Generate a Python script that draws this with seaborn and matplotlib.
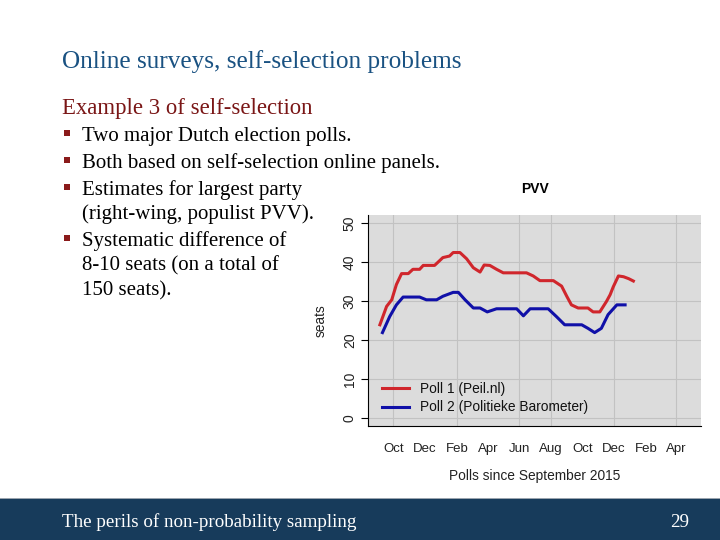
import matplotlib
matplotlib.use("Agg")
import matplotlib.pyplot as plt
import matplotlib.dates as mdates
import matplotlib.patches as mpatches
import pandas as pd
import seaborn as sns

# ---- data ----
poll1_dates = ["2015-09-05", "2015-09-18", "2015-09-28", "2015-10-07", "2015-10-17",
               "2015-10-30", "2015-11-08", "2015-11-21", "2015-11-28", "2015-12-20",
               "2016-01-05", "2016-01-18", "2016-01-25", "2016-02-07", "2016-02-20",
               "2016-03-04", "2016-03-17", "2016-03-25", "2016-04-05", "2016-04-18",
               "2016-05-01", "2016-06-15", "2016-06-28", "2016-07-11", "2016-08-06",
               "2016-08-22", "2016-09-01", "2016-09-10", "2016-09-23", "2016-10-12",
               "2016-10-22", "2016-11-04", "2016-11-17", "2016-11-24", "2016-11-30",
               "2016-12-10", "2016-12-20", "2016-12-30", "2017-01-08"]
poll1_seats = [23.9, 28.6, 30.3, 34.2, 37.0, 37.0, 38.1, 38.1, 39.1, 39.1,
               41.1, 41.5, 42.4, 42.4, 40.8, 38.5, 37.4, 39.2, 39.1, 38.1,
               37.2, 37.2, 36.4, 35.2, 35.2, 33.8, 31.2, 29.0, 28.2, 28.2,
               27.2, 27.2, 29.9, 31.6, 33.6, 36.4, 36.2, 35.7, 35.1]

poll2_dates = ["2015-09-10", "2015-09-24", "2015-10-07", "2015-10-20", "2015-11-21",
               "2015-12-04", "2015-12-24", "2016-01-05", "2016-01-25", "2016-02-04",
               "2016-02-17", "2016-03-04", "2016-03-17", "2016-03-31", "2016-04-18",
               "2016-05-27", "2016-06-09", "2016-06-22", "2016-07-27", "2016-08-12",
               "2016-08-28", "2016-09-30", "2016-10-12", "2016-10-25", "2016-11-07",
               "2016-11-20", "2016-12-07", "2016-12-23"]
poll2_seats = [21.9, 26.0, 29.0, 31.0, 31.0, 30.3, 30.3, 31.2, 32.2, 32.2,
               30.3, 28.2, 28.2, 27.2, 28.0, 28.0, 26.2, 28.0, 28.0, 26.0,
               23.9, 23.9, 23.0, 21.9, 23.0, 26.5, 29.0, 29.0]

series_names = ["Poll 1 (Peil.nl)", "Poll 2 (Politieke Barometer)"]
series_colors = ["#d0262c", "#1010a8"]

month_labels = ["Oct", "Dec", "Feb", "Apr", "Jun", "Aug", "Oct", "Dec", "Feb", "Apr"]
month_label_dates = ["2015-10-01", "2015-12-01", "2016-02-01", "2016-04-01", "2016-06-01",
                     "2016-08-01", "2016-10-01", "2016-12-01", "2017-02-01", "2017-04-01"]
tick_mark_dates = ["2015-10-01", "2016-02-01", "2016-06-01", "2016-08-01",
                   "2016-12-01", "2017-04-01"]
y_ticks = [0, 10, 20, 30, 40, 50]

slide_title = "Online surveys, self-selection problems"
subtitle = "Example 3 of self-selection"
bullets = [
    ["Two major Dutch election polls."],
    ["Both based on self-selection online panels."],
    ["Estimates for largest party", "(right-wing, populist PVV)."],
    ["Systematic difference of", "8-10 seats (on a total of", "150 seats)."],
]
footer_text = "The perils of non-probability sampling"
page_number = "29"

# ---- build frame ----
df = pd.concat([
    pd.DataFrame({"date": pd.to_datetime(poll1_dates), "seats": poll1_seats, "poll": series_names[0]}),
    pd.DataFrame({"date": pd.to_datetime(poll2_dates), "seats": poll2_seats, "poll": series_names[1]}),
], ignore_index=True)

W, H = 720, 540
fig = plt.figure(figsize=(7.2, 5.4), dpi=100)
fig.patch.set_facecolor("white")

def fx(px):
    return px / W

def fy(py):
    return 1 - py / H

serif = ["Liberation Serif", "DejaVu Serif"]
sans = ["Liberation Sans", "DejaVu Sans"]

# ---- slide texts ----
fig.text(fx(62), fy(68), slide_title, family=serif, fontsize=18.2, color="#1a5282",
         ha="left", va="baseline")
fig.text(fx(62), fy(114), subtitle, family=serif, fontsize=16.4, color="#7a1616",
         ha="left", va="baseline")

line_baselines = [141, 168, 195, 219, 246, 270, 295]
i = 0
for b in bullets:
    for j, line in enumerate(b):
        yb = line_baselines[i]
        if j == 0:
            fig.patches.append(mpatches.Rectangle((fx(64), fy(yb - 5)), 6 / W, 6 / H,
                                                  transform=fig.transFigure,
                                                  facecolor="#8a1a1a", edgecolor="none"))
        fig.text(fx(82), fy(yb), line, family=serif, fontsize=15.0, color="black",
                 ha="left", va="baseline")
        i += 1

# footer band
fig.patches.append(mpatches.Rectangle((0, 0), 1, 41 / H, transform=fig.transFigure,
                                      facecolor="#173b5b", edgecolor="none", zorder=0))
fig.patches.append(mpatches.Rectangle((0, 41 / H), 1, 1.5 / H, transform=fig.transFigure,
                                      facecolor="#9aa4ae", edgecolor="none", zorder=0))
fig.text(fx(62), fy(527), footer_text, family=serif, fontsize=13.7, color="white",
         ha="left", va="baseline")
fig.text(fx(689), fy(527), page_number, family=serif, fontsize=13.7, color="white",
         ha="right", va="baseline")

# ---- chart ----
ax = fig.add_axes([fx(368), fy(426), (701 - 368) / W, (426 - 215) / H])
ax.set_facecolor("#dcdcdc")

sns.lineplot(data=df, x="date", y="seats", hue="poll", hue_order=series_names,
             palette=series_colors, linewidth=2.2, ax=ax, legend=True)

ax.set_xlim(pd.Timestamp("2015-08-13"), pd.Timestamp("2017-05-19"))
ax.set_ylim(-2, 52)

for s in ["top", "right"]:
    ax.spines[s].set_visible(False)
for s in ["left", "bottom"]:
    ax.spines[s].set_color("black")
    ax.spines[s].set_linewidth(0.8)

# grid
for d in tick_mark_dates:
    ax.axvline(pd.Timestamp(d), color="#c2c2c2", linewidth=0.8, zorder=0.5)
for yv in y_ticks:
    ax.axhline(yv, color="#c2c2c2", linewidth=0.8, zorder=0.5)

# y ticks
ax.set_yticks(y_ticks)
ax.set_yticklabels([str(v) for v in y_ticks], rotation=90, va="center",
                   family=sans, fontsize=10, color="#222222")
ax.tick_params(axis="y", length=5, width=0.8, pad=3, colors="black", labelcolor="#222222")

# x ticks: labels at every two months, marks at grid positions
label_pos = [mdates.date2num(pd.Timestamp(d)) for d in month_label_dates]
mark_pos = [mdates.date2num(pd.Timestamp(d)) for d in tick_mark_dates]
ax.xaxis.set_major_locator(matplotlib.ticker.FixedLocator(label_pos))
ax.xaxis.set_major_formatter(matplotlib.ticker.FixedFormatter(month_labels))
ax.xaxis.set_minor_locator(matplotlib.ticker.FixedLocator(mark_pos))
ax.tick_params(axis="x", which="major", length=0, pad=12, labelsize=9.5, labelcolor="#222222")
ax.tick_params(axis="x", which="minor", length=6, width=0.8, color="black")
for t in ax.get_xticklabels():
    t.set_family(sans)

ax.set_xlabel("Polls since September 2015", family=sans, fontsize=9.9, color="#222222",
              labelpad=10)
ax.set_ylabel("seats", family=sans, fontsize=9.9, color="#222222", labelpad=11)
ax.set_title("PVV", family=sans, fontsize=10, fontweight="bold", color="black", pad=16)

leg = ax.legend(loc="lower left", bbox_to_anchor=(0.0, -0.01), frameon=False,
                prop={"family": sans, "size": 9.9}, handlelength=2.0,
                handletextpad=0.8, labelspacing=0.35, borderaxespad=0.6)
for line in leg.get_lines():
    line.set_linewidth(2.2)
for txt in leg.get_texts():
    txt.set_color("#111111")

fig.savefig("out.png", dpi=100, facecolor="white")
